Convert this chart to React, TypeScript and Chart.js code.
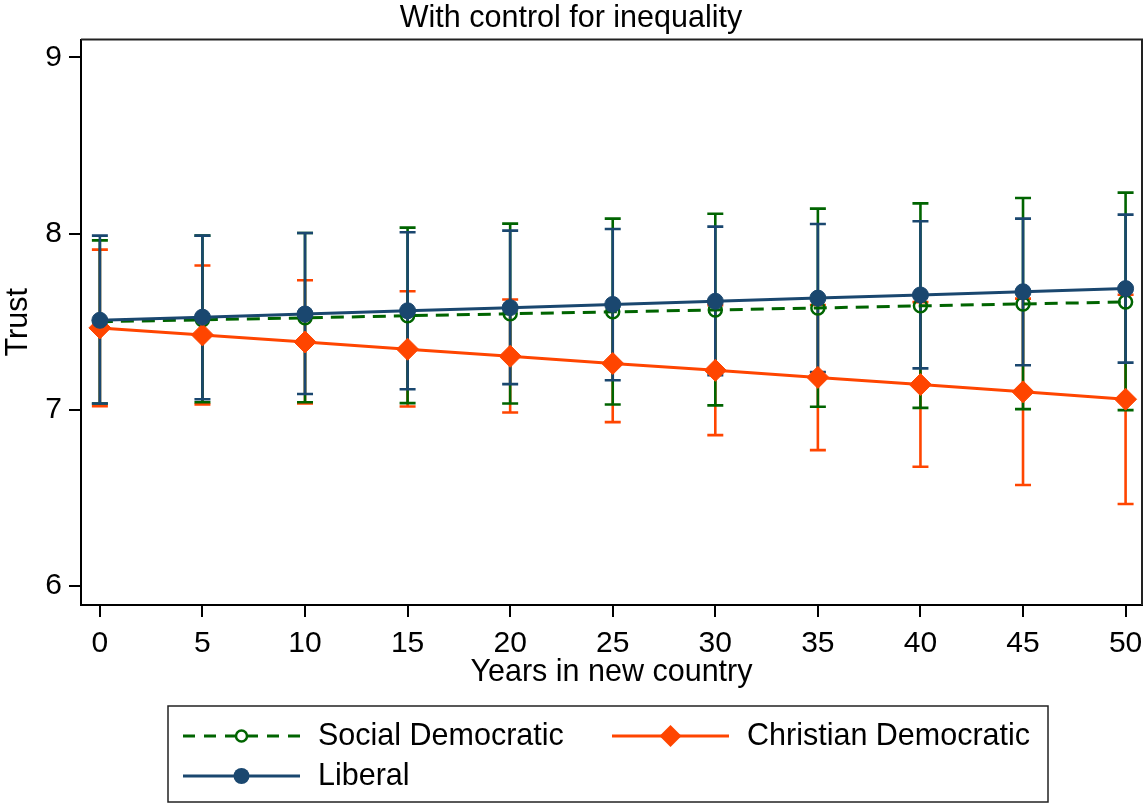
import React, { useEffect, useRef } from 'react';
import { Chart, registerables } from 'chart.js';

Chart.register(...registerables);

const FONT = "'Liberation Sans', Arial, Helvetica, sans-serif";

const chartTitle = 'With control for inequality';
const xAxisTitle = 'Years in new country';
const yAxisTitle = 'Trust';

const years = [0, 5, 10, 15, 20, 25, 30, 35, 40, 45, 50];
const xTickValues = [0, 5, 10, 15, 20, 25, 30, 35, 40, 45, 50];
const yTickValues = [6, 7, 8, 9];

const seriesNames = ['Social Democratic', 'Christian Democratic', 'Liberal'];

const socialMean = [7.5, 7.511, 7.522, 7.534, 7.545, 7.556, 7.567, 7.578, 7.59, 7.601, 7.612];
const socialUpper = [7.962, 7.989, 8.004, 8.034, 8.057, 8.085, 8.113, 8.142, 8.172, 8.202, 8.233];
const socialLower = [7.036, 7.043, 7.043, 7.038, 7.036, 7.03, 7.025, 7.017, 7.011, 7.004, 6.998];

const christianMean = [7.465, 7.425, 7.385, 7.344, 7.304, 7.263, 7.224, 7.184, 7.143, 7.102, 7.06];
const christianUpper = [7.909, 7.819, 7.735, 7.673, 7.626, 7.596, 7.594, 7.595, 7.611, 7.631, 7.653];
const christianLower = [7.021, 7.031, 7.036, 7.019, 6.985, 6.93, 6.856, 6.771, 6.677, 6.573, 6.465];

const liberalMean = [7.508, 7.526, 7.544, 7.562, 7.58, 7.598, 7.616, 7.634, 7.652, 7.67, 7.688];
const liberalUpper = [7.989, 7.989, 8.004, 8.008, 8.017, 8.026, 8.04, 8.055, 8.07, 8.085, 8.108];
const liberalLower = [7.036, 7.06, 7.09, 7.117, 7.146, 7.168, 7.197, 7.215, 7.235, 7.253, 7.268];

const GREEN = '#006400';
const ORANGE = '#ff4500';
const NAVY = '#1a476f';

const toPoints = (ys: number[]) => years.map((x, i) => ({ x, y: ys[i] }));

function drawMarker(ctx: CanvasRenderingContext2D, kind: string, x: number, y: number, r: number, color: string) {
  ctx.save();
  ctx.setLineDash([]);
  if (kind === 'hollow') {
    ctx.beginPath();
    ctx.arc(x, y, r, 0, Math.PI * 2);
    ctx.strokeStyle = color;
    ctx.lineWidth = 2.5;
    ctx.stroke();
  } else if (kind === 'diamond') {
    ctx.beginPath();
    ctx.moveTo(x - r, y);
    ctx.lineTo(x, y - r);
    ctx.lineTo(x + r, y);
    ctx.lineTo(x, y + r);
    ctx.closePath();
    ctx.fillStyle = color;
    ctx.fill();
  } else {
    ctx.beginPath();
    ctx.arc(x, y, r, 0, Math.PI * 2);
    ctx.fillStyle = color;
    ctx.fill();
  }
  ctx.restore();
}

const errorBarPlugin = {
  id: 'errorBars',
  beforeDatasetsDraw(chart: any) {
    const ctx = chart.ctx as CanvasRenderingContext2D;
    const xs = chart.scales.x;
    const ys = chart.scales.y;
    const groups = [
      { lo: christianLower, hi: christianUpper, color: ORANGE },
      { lo: socialLower, hi: socialUpper, color: GREEN },
      { lo: liberalLower, hi: liberalUpper, color: NAVY },
    ];
    ctx.save();
    ctx.lineWidth = 2.6;
    for (const g of groups) {
      ctx.strokeStyle = g.color;
      years.forEach((yr, i) => {
        const px = xs.getPixelForValue(yr);
        const pTop = ys.getPixelForValue(g.hi[i]);
        const pBot = ys.getPixelForValue(g.lo[i]);
        ctx.beginPath();
        ctx.moveTo(px, pTop);
        ctx.lineTo(px, pBot);
        ctx.moveTo(px - 8, pTop);
        ctx.lineTo(px + 8, pTop);
        ctx.moveTo(px - 8, pBot);
        ctx.lineTo(px + 8, pBot);
        ctx.stroke();
      });
    }
    ctx.restore();
  },
};

const framePlugin = {
  id: 'frame',
  afterDraw(chart: any) {
    const ctx = chart.ctx as CanvasRenderingContext2D;
    const a = chart.chartArea;
    ctx.save();
    ctx.strokeStyle = '#222';
    ctx.lineWidth = 2;
    ctx.beginPath();
    ctx.moveTo(a.left, a.top);
    ctx.lineTo(a.right, a.top);
    ctx.lineTo(a.right, a.bottom);
    ctx.stroke();
    ctx.restore();
  },
};

const legendPlugin = {
  id: 'stataLegend',
  afterDraw(chart: any) {
    const ctx = chart.ctx as CanvasRenderingContext2D;
    const boxLeft = 168;
    const boxRight = 1048;
    const boxTop = 706;
    const boxBottom = 802;
    ctx.save();
    ctx.strokeStyle = '#222';
    ctx.lineWidth = 1.5;
    ctx.strokeRect(boxLeft, boxTop, boxRight - boxLeft, boxBottom - boxTop);

    const entries = [
      { name: seriesNames[0], x: 183, y: 736, color: GREEN, dash: [12, 9], marker: 'hollow', r: 5.5 },
      { name: seriesNames[1], x: 612, y: 736, color: ORANGE, dash: [], marker: 'diamond', r: 11 },
      { name: seriesNames[2], x: 183, y: 776, color: NAVY, dash: [], marker: 'dot', r: 8 },
    ];
    const sampleLen = 117;
    for (const e of entries) {
      ctx.save();
      ctx.strokeStyle = e.color;
      ctx.lineWidth = 3;
      ctx.setLineDash(e.dash);
      ctx.beginPath();
      ctx.moveTo(e.x, e.y);
      ctx.lineTo(e.x + sampleLen, e.y);
      ctx.stroke();
      ctx.restore();
      drawMarker(ctx, e.marker, e.x + sampleLen / 2, e.y, e.r, e.color);
      ctx.fillStyle = '#000';
      ctx.font = `30.5px ${FONT}`;
      ctx.textBaseline = 'middle';
      ctx.textAlign = 'left';
      ctx.fillText(e.name, e.x + 135, e.y + 1);
    }
    ctx.restore();
  },
};

export default function App() {
  const canvasRef = useRef<HTMLCanvasElement | null>(null);

  useEffect(() => {
    if (!canvasRef.current) return;
    const chart = new Chart(canvasRef.current, {
      type: 'line',
      data: {
        datasets: [
          {
            label: seriesNames[0],
            data: toPoints(socialMean),
            borderColor: GREEN,
            borderWidth: 3,
            borderDash: [13, 8],
            pointStyle: 'circle',
            pointRadius: 6.5,
            pointBorderWidth: 2.5,
            pointBackgroundColor: 'rgba(0,0,0,0)',
            pointBorderColor: GREEN,
            tension: 0,
            fill: false,
            order: 2,
          },
          {
            label: seriesNames[1],
            data: toPoints(christianMean),
            borderColor: ORANGE,
            borderWidth: 3,
            pointStyle: 'rectRot',
            pointRadius: 11,
            pointBorderWidth: 1,
            pointBackgroundColor: ORANGE,
            pointBorderColor: ORANGE,
            tension: 0,
            fill: false,
            order: 1,
          },
          {
            label: seriesNames[2],
            data: toPoints(liberalMean),
            borderColor: NAVY,
            borderWidth: 3,
            pointStyle: 'circle',
            pointRadius: 8,
            pointBorderWidth: 1,
            pointBackgroundColor: NAVY,
            pointBorderColor: NAVY,
            tension: 0,
            fill: false,
            order: 0,
          },
        ],
      },
      options: {
        animation: false,
        responsive: false,
        devicePixelRatio: 1,
        layout: { autoPadding: false, padding: { left: 0, right: 3, top: 0, bottom: 93 } },
        plugins: {
          legend: { display: false },
          tooltip: { enabled: false },
          title: {
            display: true,
            text: chartTitle,
            color: '#000',
            font: { family: FONT, size: 30.5, weight: 'normal', lineHeight: 1 },
            padding: { top: 3, bottom: 6 },
          },
        },
        scales: {
          x: {
            type: 'linear',
            min: -0.92,
            max: 50.8,
            afterBuildTicks: (s: any) => {
              s.ticks = xTickValues.map((v) => ({ value: v }));
            },
            afterFit: (s: any) => {
              s.height = 106;
              s.paddingLeft = 0;
              s.paddingRight = 0;
            },
            ticks: {
              color: '#000',
              font: { family: FONT, size: 30, lineHeight: 1 },
              padding: 12,
              maxRotation: 0,
              autoSkip: false,
              callback: (v: any) => String(v),
            },
            grid: { drawOnChartArea: false, drawTicks: true, tickLength: 12, color: '#000', lineWidth: 2 },
            border: { display: true, color: '#000', width: 2 },
            title: {
              display: true,
              text: xAxisTitle,
              color: '#000',
              font: { family: FONT, size: 30.5, lineHeight: 1 },
              padding: { top: 0, bottom: 23 },
            },
          },
          y: {
            type: 'linear',
            min: 5.892,
            max: 9.102,
            afterBuildTicks: (s: any) => {
              s.ticks = yTickValues.map((v) => ({ value: v }));
            },
            afterFit: (s: any) => {
              s.width = 81;
              s.paddingTop = 0;
              s.paddingBottom = 0;
            },
            ticks: {
              color: '#000',
              font: { family: FONT, size: 30, lineHeight: 1 },
              padding: 7,
              callback: (v: any) => String(v),
            },
            grid: { drawOnChartArea: false, drawTicks: true, tickLength: 12, color: '#000', lineWidth: 2 },
            border: { display: true, color: '#000', width: 2 },
            title: {
              display: true,
              text: yAxisTitle,
              color: '#000',
              font: { family: FONT, size: 30.5, lineHeight: 1 },
              padding: { top: 3, bottom: 0 },
            },
          },
        },
      },
      plugins: [errorBarPlugin, framePlugin, legendPlugin],
    } as any);
    return () => chart.destroy();
  }, []);

  return (
    <div style={{ position: 'absolute', left: 0, top: 0, width: 1145, height: 804, background: '#fff' }}>
      <canvas ref={canvasRef} width={1145} height={804} style={{ display: 'block', width: 1145, height: 804 }} />
    </div>
  );
}
